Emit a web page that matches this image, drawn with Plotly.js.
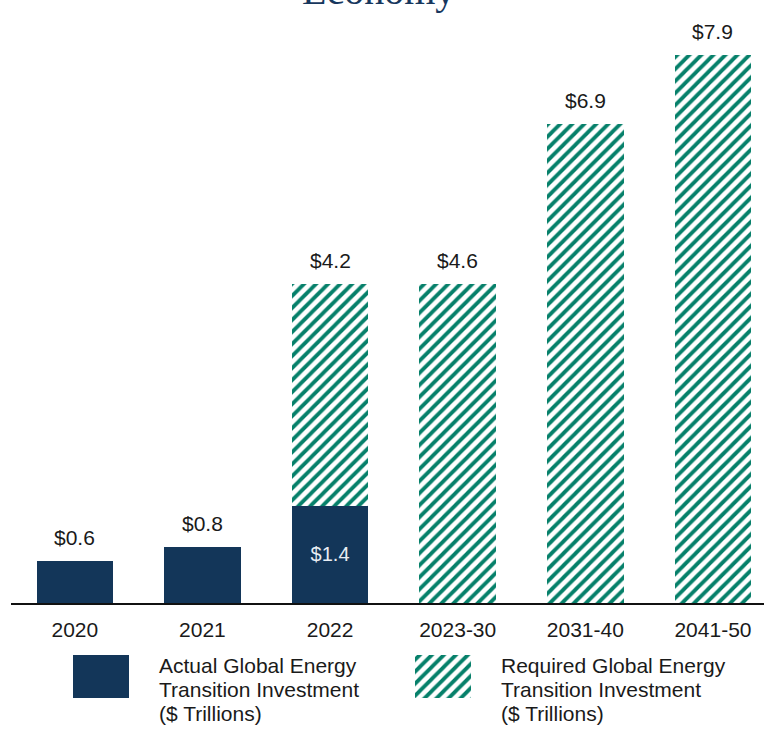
<!DOCTYPE html>
<html>
<head>
<meta charset="utf-8">
<script src="https://cdn.plot.ly/plotly-3.0.1.min.js"></script>
<style>
  html, body { margin: 0; padding: 0; background: #ffffff; }
  #chart { width: 764px; height: 731px; }
</style>
</head>
<body>
<div id="chart"></div>
<script>
// ---- data ----
const categories   = ["2020", "2021", "2022", "2023-30", "2031-40", "2041-50"];
const actual       = [0.6, 0.8, 1.4, 0, 0, 0];
const required     = [0, 0, 3.2, 4.6, 6.9, 7.9];
const topLabels    = ["$0.6", "$0.8", "$4.2", "$4.6", "$6.9", "$7.9"];
const insideLabels = ["", "", "$1.4", "", "", ""];
const legendKeys   = [0, 1];
const legendLines  = [
  ["Actual Global Energy", "Transition Investment", "($ Trillions)"],
  ["Required Global Energy", "Transition Investment", "($ Trillions)"]
];
const titleText = "Economy";

// ---- styles ----
const NAVY = "#133659";
const GREEN = "#06806a";
const TEXT = "#1a1a1a";
const FONT = "Liberation Sans, Arial, sans-serif";
const hatch = { shape: "/", fgcolor: GREEN, bgcolor: "#ffffff", size: 8.5, solidity: 0.45 };

const traces = [
  {
    type: "bar", x: categories, y: actual, width: 0.6,
    marker: { color: NAVY, line: { width: 0 } },
    text: insideLabels, textposition: "inside", insidetextanchor: "middle",
    insidetextfont: { family: FONT, size: 20, color: "#e8edf3" },
    hoverinfo: "skip", showlegend: false, cliponaxis: false
  },
  {
    type: "bar", x: categories, y: required, width: 0.6,
    marker: { color: "#ffffff", pattern: hatch, line: { width: 0 } },
    hoverinfo: "skip", showlegend: false
  },
  // legend swatches
  {
    type: "bar", x: [legendKeys[0]], y: [1], width: 0.164, xaxis: "x2", yaxis: "y2",
    marker: { color: NAVY, line: { width: 0 } }, hoverinfo: "skip", showlegend: false
  },
  {
    type: "bar", x: [legendKeys[1]], y: [1], width: 0.164, xaxis: "x2", yaxis: "y2",
    marker: { color: "#ffffff", pattern: hatch, line: { width: 0 } }, hoverinfo: "skip", showlegend: false
  }
];

const annotations = [];
categories.forEach((c, i) => {
  annotations.push({
    x: i, y: actual[i] + required[i], xref: "x", yref: "y",
    text: topLabels[i], showarrow: false, yanchor: "bottom", yshift: 10,
    font: { family: FONT, size: 21, color: TEXT }
  });
});
const legendTextX = [0.1939, 0.6481];
const lineY = [0.0893, 0.0565, 0.0237];
legendLines.forEach((lines, k) => {
  lines.forEach((ln, j) => {
    annotations.push({
      x: legendTextX[k], y: lineY[j], xref: "paper", yref: "paper",
      text: ln, showarrow: false, xanchor: "left", yanchor: "middle",
      font: { family: FONT, size: 21, color: TEXT }
    });
  });
});
annotations.push({
  x: 0.4874, y: 0.98, xref: "paper", yref: "paper",
  text: titleText, showarrow: false, xanchor: "center", yanchor: "bottom",
  font: { family: "Liberation Serif, Times New Roman, serif", size: 40, color: "#17375e" }
});

const layout = {
  width: 764, height: 731,
  margin: { l: 11, r: 0, t: 0, b: 0, pad: 0 },
  paper_bgcolor: "#ffffff", plot_bgcolor: "#ffffff",
  barmode: "stack",
  showlegend: false,
  xaxis: {
    type: "category", range: [-0.5, 5.4], domain: [0, 1], anchor: "y",
    showline: true, linecolor: "#111111", linewidth: 2,
    ticks: "", showgrid: false, zeroline: false,
    tickfont: { family: FONT, size: 21, color: TEXT },
    ticklabelstandoff: 7, fixedrange: true
  },
  yaxis: {
    domain: [0.1751, 1], range: [0, 8.689],
    visible: false, showgrid: false, zeroline: false, fixedrange: true
  },
  xaxis2: {
    domain: [0, 1], range: [-0.2635, 1.9414], anchor: "y2",
    visible: false, showgrid: false, zeroline: false, fixedrange: true
  },
  yaxis2: {
    domain: [0.04514, 0.10397], range: [0, 1], anchor: "x2",
    visible: false, showgrid: false, zeroline: false, fixedrange: true
  },
  annotations: annotations
};

Plotly.newPlot("chart", traces, layout, { displayModeBar: false, staticPlot: true });
</script>
</body>
</html>
